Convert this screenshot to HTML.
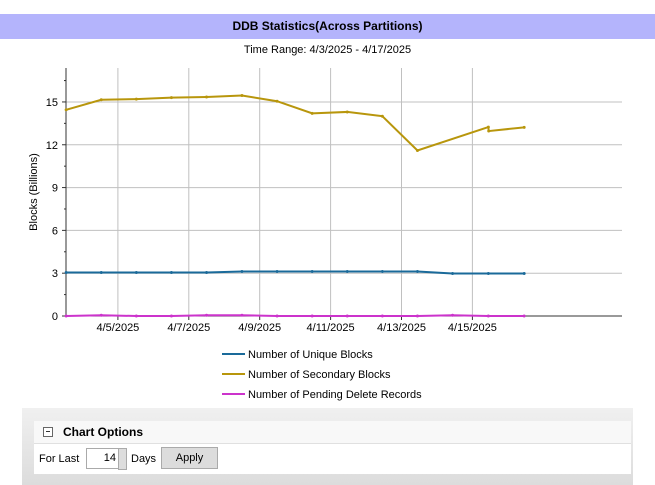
<!DOCTYPE html>
<html><head><meta charset="utf-8"><style>
body{margin:0;width:655px;height:485px;background:#fff;font-family:"Liberation Sans",sans-serif;font-size:11px;position:relative;overflow:hidden}
.abs{position:absolute}
</style></head><body>
<div class="abs" style="left:0;top:14px;width:655px;height:25px;background:#b4b4fc;text-align:center;line-height:25px;font-weight:bold;font-size:12px">DDB Statistics(Across Partitions)</div>
<div class="abs" style="left:0;top:44px;width:655px;text-align:center;font-size:11px">Time Range: 4/3/2025 - 4/17/2025</div>
<svg class="abs" style="left:0;top:0" width="655" height="405" id="chart"></svg>
<div class="abs" style="left:22px;top:408px;width:611px;height:77px;background:linear-gradient(#f0f0f0,#dcdcdc)">
  <div class="abs" style="left:12px;top:13px;width:597px;height:22px;background:#f8f8f8;border-bottom:1px solid #e0e0e0">
    <div class="abs" style="left:9px;top:6px;width:8px;height:8px;border:1px solid #666;background:#fff"><div style="position:absolute;left:2px;top:3px;width:4px;height:1px;background:#333"></div></div>
    <div class="abs" style="left:29px;top:4px;font-weight:bold;font-size:12px">Chart Options</div>
  </div>
  <div class="abs" style="left:12px;top:36px;width:597px;height:30px;background:#fff">
    <span class="abs" style="left:5px;top:9px">For Last</span>
    <div class="abs" style="left:52px;top:4px;width:29px;height:19px;border:1px solid #aaa;text-align:right;line-height:19px;padding-right:2px">14</div>
    <div class="abs" style="left:84px;top:4px;width:7px;height:20px;background:#ddd;border:1px solid #aaa"></div>
    <span class="abs" style="left:97px;top:9px">Days</span>
    <div class="abs" style="left:127px;top:3px;width:55px;height:20px;background:#dcdcdc;border:1px solid #aaa;text-align:center;line-height:20px">Apply</div>
  </div>
</div>
<script>
const days=[0.54,1.53,2.52,3.51,4.5,5.5,6.49,7.48,8.47,9.46,10.45,12.45,12.46,13.46];
const secondary=[14.45,15.15,15.2,15.3,15.35,15.45,15.05,14.2,14.3,14.0,11.6,13.24,12.96,13.22];
const uniqueDays=[0.54,1.53,2.52,3.51,4.5,5.5,6.49,7.48,8.47,9.46,10.45,11.44,12.45,13.46];
const unique=[3.05,3.05,3.05,3.05,3.05,3.12,3.12,3.12,3.12,3.12,3.12,2.98,2.98,2.98];
const pending=[0,0.05,0,0,0.05,0.05,0,0,0,0,0,0.05,0,0];
const yTicks=[0,3,6,9,12,15];
const xTicks=[2,4,6,8,10,12];
const xLabels=["4/5/2025","4/7/2025","4/9/2025","4/11/2025","4/13/2025","4/15/2025"];
const L=66,R=622,T=68,B=316;
const X=d=>47+35.45*d, Y=v=>B-v*14.27;
const svg=document.getElementById('chart');const NS='http://www.w3.org/2000/svg';
function el(t,a,p){const e=document.createElementNS(NS,t);for(const k in a)e.setAttribute(k,a[k]);(p||svg).appendChild(e);return e;}
yTicks.forEach(v=>{if(v>0){const g=el('line',{x1:L,x2:R,y1:Y(v),y2:Y(v),stroke:'#c0c0c0'});}
const t=el('text',{x:L-8,y:Y(v)+4,'text-anchor':'end','font-size':11,fill:'#000'});t.textContent=v;
el('line',{x1:L-4,x2:L,y1:Y(v),y2:Y(v),stroke:'#333'});});
for(let v=1.5;v<17;v+=3){el('line',{x1:L-2,x2:L,y1:Y(v),y2:Y(v),stroke:'#333'});}
el('line',{x1:L-2,x2:L,y1:Y(16.5),y2:Y(16.5),stroke:'#333'});
xTicks.forEach((d,i)=>{const g=el('line',{x1:X(d),x2:X(d),y1:T,y2:B,stroke:'#c0c0c0'});
el('line',{x1:X(d),x2:X(d),y1:B,y2:B+4,stroke:'#333'});
const t=el('text',{x:X(d),y:B+15,'text-anchor':'middle','font-size':11});t.textContent=xLabels[i];});
el('line',{x1:L,x2:L,y1:T,y2:B,stroke:'#333'});
el('line',{x1:L,x2:R,y1:B,y2:B,stroke:'#333'});
const yt=el('text',{x:37,y:192,'text-anchor':'middle','font-size':11,transform:'rotate(-90 37 192)'});yt.textContent='Blocks (Billions)';

function series(xs,vs,c,name){const p=el('polyline',{points:xs.map((d,i)=>X(d)+','+Y(vs[i])).join(' '),fill:'none',stroke:c,'stroke-width':2});

xs.forEach((d,i)=>{el('circle',{cx:X(d),cy:Y(vs[i]),r:1.5,fill:c});});}
series(uniqueDays,pending,'#cc33cc','pending-delete-line');
series(uniqueDays,unique,'#1a6a9a','unique-blocks-line');
series(days,secondary,'#b8960c','secondary-blocks-line');
const leg=[['#1a6a9a','Number of Unique Blocks'],['#b8960c','Number of Secondary Blocks'],['#cc33cc','Number of Pending Delete Records']];
leg.forEach((l,i)=>{const y=354+i*20;const g=el('g',{});
el('line',{x1:222,x2:245,y1:y,y2:y,stroke:l[0],'stroke-width':2},g);const t=el('text',{x:248,y:y+4,'font-size':11},g);t.textContent=l[1];});
</script>
</body></html>
